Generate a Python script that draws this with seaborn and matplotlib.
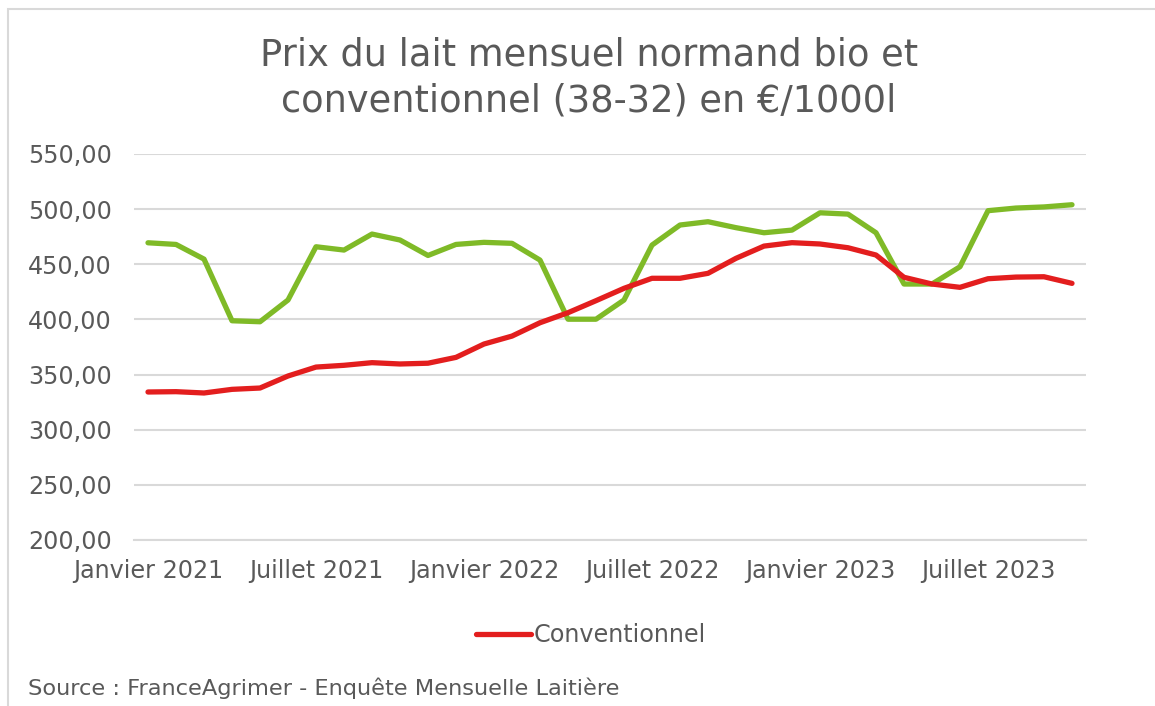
import numpy as np
import pandas as pd
import matplotlib
matplotlib.use("Agg")
import matplotlib.pyplot as plt
import seaborn as sns
from matplotlib.patches import Rectangle
from matplotlib.ticker import FuncFormatter

# Jan 2021 -> Oct 2023
mois = ["Janvier 2021", "", "", "", "", "", "Juillet 2021", "", "", "", "", "",
        "Janvier 2022", "", "", "", "", "", "Juillet 2022", "", "", "", "", "",
        "Janvier 2023", "", "", "", "", "", "Juillet 2023", "", "", ""]

bio = [469.5, 468.0, 454.7, 398.8, 397.9, 417.6, 465.9, 462.9, 477.4, 472.0,
       458.0, 468.0, 469.9, 469.0, 453.8, 400.2, 400.2, 417.6, 467.4, 485.6,
       488.6, 483.2, 478.6, 481.0, 496.7, 495.5, 478.6, 432.1, 432.1, 447.8,
       498.6, 501.0, 502.0, 504.0]

conventionnel = [334.2, 334.5, 333.3, 336.6, 337.8, 348.7, 356.8, 358.4, 360.8, 359.6,
                 360.3, 365.6, 377.7, 384.9, 397.0, 406.1, 417.0, 428.2, 437.3, 437.3,
                 441.8, 455.4, 466.5, 469.6, 468.4, 465.0, 458.4, 438.2, 432.1, 429.1,
                 436.9, 438.4, 438.7, 432.7]

df = pd.DataFrame({"mois": np.arange(len(mois)), "Bio": bio, "Conventionnel": conventionnel})

sns.set_style("white")
plt.rcParams["font.family"] = ["DejaVu Sans"]

gris = "#595959"
fig = plt.figure(figsize=(11.55, 7.06), dpi=100)
ax = fig.add_axes([134 / 1155, 1 - 540 / 706, (1086 - 134) / 1155, (540 - 154) / 706])

sns.lineplot(data=df, x="mois", y="Bio", ax=ax, color="#7fba27", linewidth=3.8,
             legend=False, solid_joinstyle="round")
sns.lineplot(data=df, x="mois", y="Conventionnel", ax=ax, color="#e31e1e", linewidth=3.8,
             label="Conventionnel", solid_joinstyle="round")

ax.set_xlim(-0.5, len(mois) - 0.5)
ax.set_ylim(200, 550)
ax.set_yticks(np.arange(200, 551, 50))
ax.yaxis.set_major_formatter(FuncFormatter(lambda v, p: f"{v:.2f}".replace(".", ",")))
ax.grid(axis="y", color="#d9d9d9", linewidth=1.5)
ax.set_axisbelow(True)

pos = [i for i, m in enumerate(mois) if m]
ax.set_xticks(pos)
ax.set_xticklabels([mois[i] for i in pos])
ax.set_xticks(np.arange(len(mois)), minor=True)
ax.tick_params(axis="x", which="major", length=5, direction="in", color="#d9d9d9",
               width=1.2, labelsize=17.2, labelcolor=gris, pad=14)
ax.tick_params(axis="x", which="minor", length=5, direction="in", color="#d9d9d9", width=1.2)
ax.tick_params(axis="y", length=0, labelsize=17.2, labelcolor=gris, pad=16)
ax.set_xlabel("")
ax.set_ylabel("")
for s in ["top", "right", "left"]:
    ax.spines[s].set_visible(False)
ax.spines["bottom"].set_color("#d9d9d9")
ax.spines["bottom"].set_linewidth(1.5)

leg = ax.legend(loc="center", bbox_to_anchor=(591 / 1155, 1 - 635 / 706),
                bbox_transform=fig.transFigure, frameon=False, fontsize=17.2,
                handlelength=2.3, handletextpad=0.1)
for t in leg.get_texts():
    t.set_color(gris)

fig.text(589 / 1155, 1 - 78 / 706,
         "Prix du lait mensuel normand bio et\nconventionnel (38-32) en €/1000l",
         ha="center", va="center", fontsize=26.5, color=gris, linespacing=1.3)
fig.text(28 / 1155, 1 - 688 / 706, "Source : FranceAgrimer - Enquête Mensuelle Laitière",
         ha="left", va="center", fontsize=16.2, color=gris)

fig.patches.append(Rectangle((8 / 1155, -0.1), 1.2, 1 - 9 / 706 + 0.1,
                             transform=fig.transFigure, fill=False,
                             edgecolor="#d9d9d9", linewidth=1.5))

fig.savefig("out.png", dpi=100)
